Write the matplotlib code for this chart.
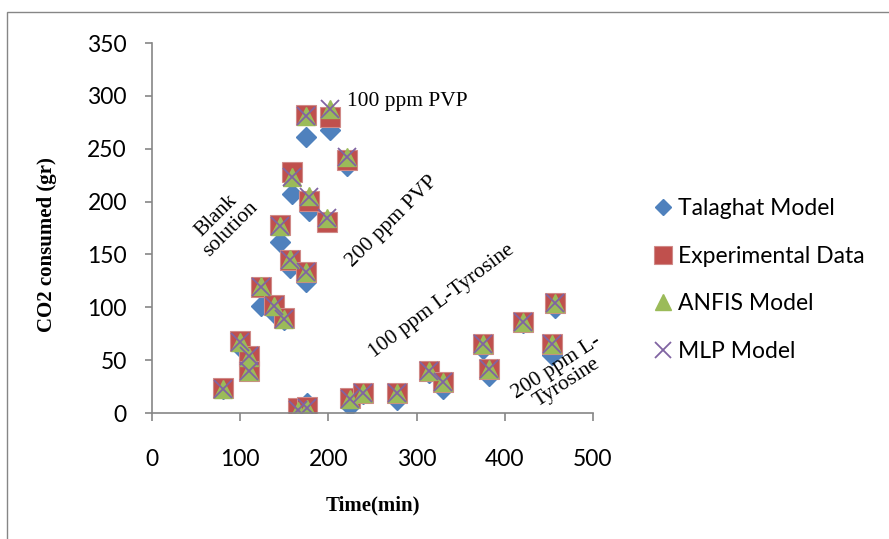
import matplotlib
matplotlib.use("Agg")
import matplotlib.pyplot as plt
from matplotlib.patches import Rectangle

# --- data ---
time_min = [80, 100, 110, 110, 124, 138, 150, 145, 157, 175, 159, 178, 198,
            175, 202, 221, 166, 176, 224, 239, 278, 314, 330, 375, 382, 421,
            457, 454]
experimental = [24, 68, 54, 40, 119, 102, 90, 178, 145, 133, 228, 201, 181,
                282, 280, 239, 5, 6, 14, 19, 19, 40, 29, 65, 42, 86, 104, 65]
talaghat = [23, 62, 52, 40, 101, 95, 88, 162, 137, 124, 207, 191, 181,
            261, 268, 234, 3, 9, 7, 18, 12, 38, 23, 61, 35, 85, 99, 55]
anfis = [23, 67, 53, 40, 120, 101, 89, 177, 146, 133, 223, 205, 184,
         281, 288, 242, 2, 4, 13, 19, 19, 40, 29, 65, 42, 86, 104, 65]
mlp = [23, 67, 54, 40, 119, 101, 89, 177, 145, 133, 223, 204, 184,
       281, 288, 242, 3, 5, 13, 19, 19, 40, 29, 65, 42, 86, 104, 65]

SANS = "Lato"
SERIF = "Liberation Serif"
GRAY = "#868686"

fig = plt.figure(figsize=(8.89, 5.39), dpi=100)
ax = fig.add_axes([152/889, 1-413/539, (593-152)/889, (413-43)/539])

ax.plot(time_min, talaghat, ls="none", marker="D", ms=10, color="#4F81BD",
        mec="#4F81BD", label="Talaghat Model")
ax.plot(time_min, experimental, ls="none", marker="s", ms=14.5, color="#C0504D",
        mec="#D08a88", mew=0.8, label="Experimental Data")
ax.plot(time_min, anfis, ls="none", marker="^", ms=13, color="#9BBB59",
        mec="#9BBB59", label="ANFIS Model")
ax.plot(time_min, mlp, ls="none", marker="x", ms=13, color="#8064A2",
        mew=1.3, label="MLP Model")

ax.set_xlim(0, 500)
ax.set_ylim(0, 350)
ax.set_xticks(range(0, 501, 100))
ax.set_yticks(range(0, 351, 50))
for s in ["top", "right"]:
    ax.spines[s].set_visible(False)
for s in ["left", "bottom"]:
    ax.spines[s].set_color(GRAY)
    ax.spines[s].set_linewidth(1.2)
ax.tick_params(axis="y", length=5, width=1.2, color=GRAY, pad=13,
               labelsize=16.5)
ax.tick_params(axis="x", length=6, width=1.2, color=GRAY, pad=20,
               labelsize=16.5)
for lab in ax.get_xticklabels() + ax.get_yticklabels():
    lab.set_fontfamily(SANS)

fig.text(373/889, 1-505/539, "Time(min)", family=SERIF, weight="bold",
         fontsize=15, ha="center", va="center")
fig.text(47/889, 1-245/539, "CO2 consumed (gr)", family=SERIF, weight="bold",
         fontsize=15, ha="center", va="center", rotation=90)

# annotations
ax.text(221, 295, "100 ppm PVP", family=SERIF, fontsize=15.5,
        ha="left", va="center")
ax.text(272, 181.5, "200 ppm PVP", family=SERIF, fontsize=15.5, rotation=45,
        ha="center", va="center", rotation_mode="anchor")
ax.text(81, 180, "Blank\nsolution", family=SERIF, fontsize=15.5, rotation=45,
        ha="center", va="center", rotation_mode="anchor", linespacing=1.0,
        multialignment="center")
ax.text(329, 106, "100 ppm L-Tyrosine", family=SERIF, fontsize=15.5, rotation=37,
        ha="center", va="center", rotation_mode="anchor")
ax.text(464, 36, "200 ppm L-\nTyrosine", family=SERIF, fontsize=15.5, rotation=33,
        ha="center", va="center", rotation_mode="anchor", linespacing=1.0,
        multialignment="center")

leg = fig.legend(loc="center left", bbox_to_anchor=(656/889, 1-280/539),
                 frameon=False, prop={"family": SANS, "size": 16.5},
                 handlelength=0.6, handletextpad=0.35, labelspacing=1.17,
                 borderpad=0, borderaxespad=0, markerscale=0.85)

# outer chart frame
fig.patches.append(Rectangle((7/889, -0.5), 2.0, 1.5 - 12/539,
                             transform=fig.transFigure, fill=False,
                             ec=GRAY, lw=1.0))

fig.savefig("out.png", dpi=100)
